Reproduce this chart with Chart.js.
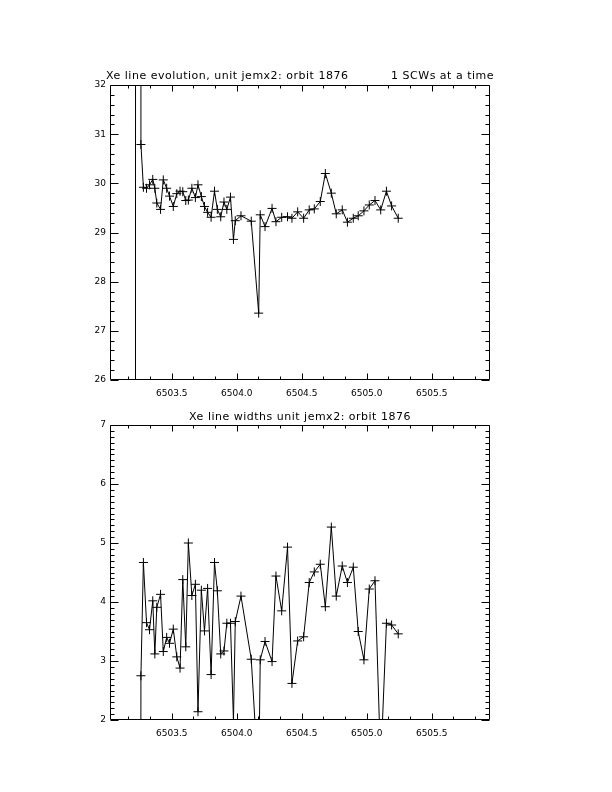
<!DOCTYPE html>
<html><head><meta charset="utf-8">
<script src="https://cdn.jsdelivr.net/npm/chart.js@4"></script>
<style>
html,body{margin:0;padding:0;background:#fff;width:612px;height:792px;overflow:hidden;}
canvas{position:absolute;left:0;}
#c1{top:0}
#c2{top:400px}
</style></head><body>
<canvas id="c1" width="612" height="400"></canvas>
<canvas id="c2" width="612" height="392"></canvas>
<script>
// ---- data ----
const scwTimes = [6503.220, 6503.251, 6503.263, 6503.282, 6503.306, 6503.329, 6503.354, 6503.370,
  6503.385, 6503.414, 6503.435, 6503.461, 6503.483, 6503.512, 6503.539, 6503.564, 6503.585,
  6503.608, 6503.628, 6503.655, 6503.682, 6503.702, 6503.728, 6503.752, 6503.776, 6503.803,
  6503.829, 6503.851, 6503.877, 6503.902, 6503.924, 6503.952, 6503.975, 6503.989, 6504.033,
  6504.112, 6504.169, 6504.181, 6504.218, 6504.272, 6504.302, 6504.346, 6504.391, 6504.425,
  6504.469, 6504.515, 6504.558, 6504.597, 6504.643, 6504.682, 6504.728, 6504.766, 6504.812,
  6504.852, 6504.897, 6504.935, 6504.979, 6505.020, 6505.064, 6505.108, 6505.152, 6505.192,
  6505.243];
const lineEnergy = [0, 1000, 30.79, 29.92, 29.90, 29.97, 30.08, 29.90,
  29.60, 29.47, 30.07, 29.90, 29.74, 29.53, 29.79, 29.84, 29.83,
  29.65, 29.66, 29.90, 29.71, 29.97, 29.73, 29.53, 29.41, 29.31,
  29.84, 29.47, 29.32, 29.62, 29.47, 29.72, 28.86, 29.24, 29.34,
  29.23, 27.36, 29.36, 29.12, 29.49, 29.22, 29.31, 29.32, 29.29,
  29.42, 29.29, 29.46, 29.48, 29.63, 30.20, 29.80, 29.38, 29.46,
  29.21, 29.29, 29.34, 29.44, 29.56, 29.65, 29.46, 29.84, 29.54,
  29.29];
const lineWidth = [0, -20, 2.75, 4.67, 3.65, 3.53, 4.02, 3.12,
  3.91, 4.13, 3.16, 3.40, 3.30, 3.54, 3.07, 2.88, 4.38,
  3.24, 5.00, 4.11, 4.30, 2.14, 4.20, 3.51, 4.23, 2.77,
  4.67, 4.19, 3.12, 3.17, 3.64, 3.64, 1.98, 3.67, 4.10,
  3.03, 0.90, 3.02, 3.33, 2.99, 4.44, 3.85, 4.93, 2.62,
  3.34, 3.41, 4.33, 4.51, 4.64, 3.92, 5.27, 4.10, 4.61,
  4.33, 4.59, 3.50, 3.02, 4.22, 4.36, 1.23, 3.64, 3.61,
  3.46];
const xTickLabels = ['6503.5', '6504.0', '6504.5', '6505.0', '6505.5'];
const energyTickLabels = ['26', '27', '28', '29', '30', '31', '32'];
const widthTickLabels = ['2', '3', '4', '5', '6', '7'];
const topTitleLeft = 'Xe line evolution, unit jemx2: orbit 1876';
const topTitleRight = '1 SCWs at a time';
const bottomTitle = 'Xe line widths unit jemx2: orbit 1876';

// ---- layout / style ----
const X_MIN = 6503.025, X_MAX = 6505.949;
const TICK_FONT = {family: 'DejaVu Sans', size: 9};

const boxTicks = {
  id: 'boxTicks',
  afterDatasetsDraw(chart) {
    const o = chart.options.plugins.boxTicks;
    const {ctx, chartArea: a, scales: {x, y}} = chart;
    const L = Math.round(a.left) + 0.5, R = Math.round(a.right) - 0.5;
    const T = Math.round(a.top) + 0.5, B = Math.round(a.bottom) - 0.5;
    ctx.save();
    ctx.strokeStyle = '#000';
    ctx.lineWidth = 1;
    ctx.beginPath();
    ctx.rect(L, T, R - L, B - T);
    const xt = (v, len) => {
      if (v < x.min || v > x.max) return;
      const p = Math.round(x.getPixelForValue(v)) + 0.5;
      ctx.moveTo(p, B); ctx.lineTo(p, B - len);
      ctx.moveTo(p, T); ctx.lineTo(p, T + len);
    };
    const yt = (v, len) => {
      if (v < y.min || v > y.max) return;
      const p = Math.round(y.getPixelForValue(v)) + 0.5;
      ctx.moveTo(L, p); ctx.lineTo(L + len, p);
      ctx.moveTo(R, p); ctx.lineTo(R - len, p);
    };
    // x ticks: majors every 0.5, 3 minor intervals per major
    const xm = xTickLabels.map(Number);
    const xStep = (xm[1] - xm[0]) / 3;
    for (let k = -10; k < 40; k++) {
      const v = xm[0] + k * xStep;
      xt(v, (k % 3 === 0) ? 6 : 3);
    }
    const ym = o.yLabels.map(Number);
    ym.forEach(v => yt(v, 8));
    const ySub = o.yMinor;
    for (let i = 0; i < ym.length - 1; i++) {
      for (let j = 1; j < ySub; j++) yt(ym[i] + j * (ym[i + 1] - ym[i]) / ySub, 4);
    }
    ctx.stroke();
    // titles
    ctx.fillStyle = '#000';
    ctx.font = '11px "DejaVu Sans"';
    ctx.letterSpacing = '0.5px';
    ctx.textBaseline = 'alphabetic';
    o.titles.forEach(t => {
      ctx.textAlign = t.align;
      ctx.fillText(t.text, t.x, a.top + t.dy);
    });
    ctx.restore();
  }
};

function makeChart(id, values, yMin, yMax, yLabels, yMinor, padTop, padBottom, xAxisH, titles) {
  return new Chart(document.getElementById(id), {
    type: 'scatter',
    data: {
      datasets: [{
        data: scwTimes.map((t, i) => ({x: t, y: values[i]})),
        showLine: true,
        borderColor: '#000',
        borderWidth: 1,
        pointStyle: 'cross',
        pointRadius: 4.5,
        pointBorderColor: '#000',
        pointBorderWidth: 1,
        tension: 0,
        clip: 0
      }]
    },
    options: {
      responsive: false,
      animation: false,
      devicePixelRatio: 1,
      events: [],
      layout: {padding: {left: 0, right: 122, top: padTop, bottom: padBottom}},
      plugins: {
        legend: {display: false},
        tooltip: {enabled: false},
        title: {display: false},
        boxTicks: {yLabels: yLabels, yMinor: yMinor, titles: titles}
      },
      scales: {
        x: {
          type: 'linear', min: X_MIN, max: X_MAX,
          grid: {display: false, drawTicks: false},
          border: {display: false},
          afterBuildTicks: s => { s.ticks = xTickLabels.map(t => ({value: Number(t)})); },
          ticks: {
            autoSkip: false, maxRotation: 0, minRotation: 0, padding: 8, color: '#000', font: TICK_FONT,
            callback: (v) => { const i = xTickLabels.map(Number).indexOf(v); return i >= 0 ? xTickLabels[i] : ''; }
          },
          afterFit: s => { s.height = xAxisH; }
        },
        y: {
          type: 'linear', min: yMin, max: yMax,
          grid: {display: false, drawTicks: false},
          border: {display: false},
          afterBuildTicks: s => { s.ticks = yLabels.map(t => ({value: Number(t)})); },
          ticks: {
            autoSkip: false, padding: 4, color: '#000', font: TICK_FONT,
            callback: (v) => { const i = yLabels.map(Number).indexOf(v); return i >= 0 ? yLabels[i] : ''; }
          },
          afterFit: s => { s.width = 110; }
        }
      }
    },
    plugins: [boxTicks]
  });
}

makeChart('c1', lineEnergy, 26, 32, energyTickLabels, 5, 85, 0, 20, [
  {text: topTitleLeft, align: 'left', x: 106, dy: -6},
  {text: topTitleRight, align: 'right', x: 494, dy: -6}
]);
makeChart('c2', lineWidth, 2, 7, widthTickLabels, 10, 25, 42, 30, [
  {text: bottomTitle, align: 'center', x: 300, dy: -5}
]);
</script>
</body></html>
